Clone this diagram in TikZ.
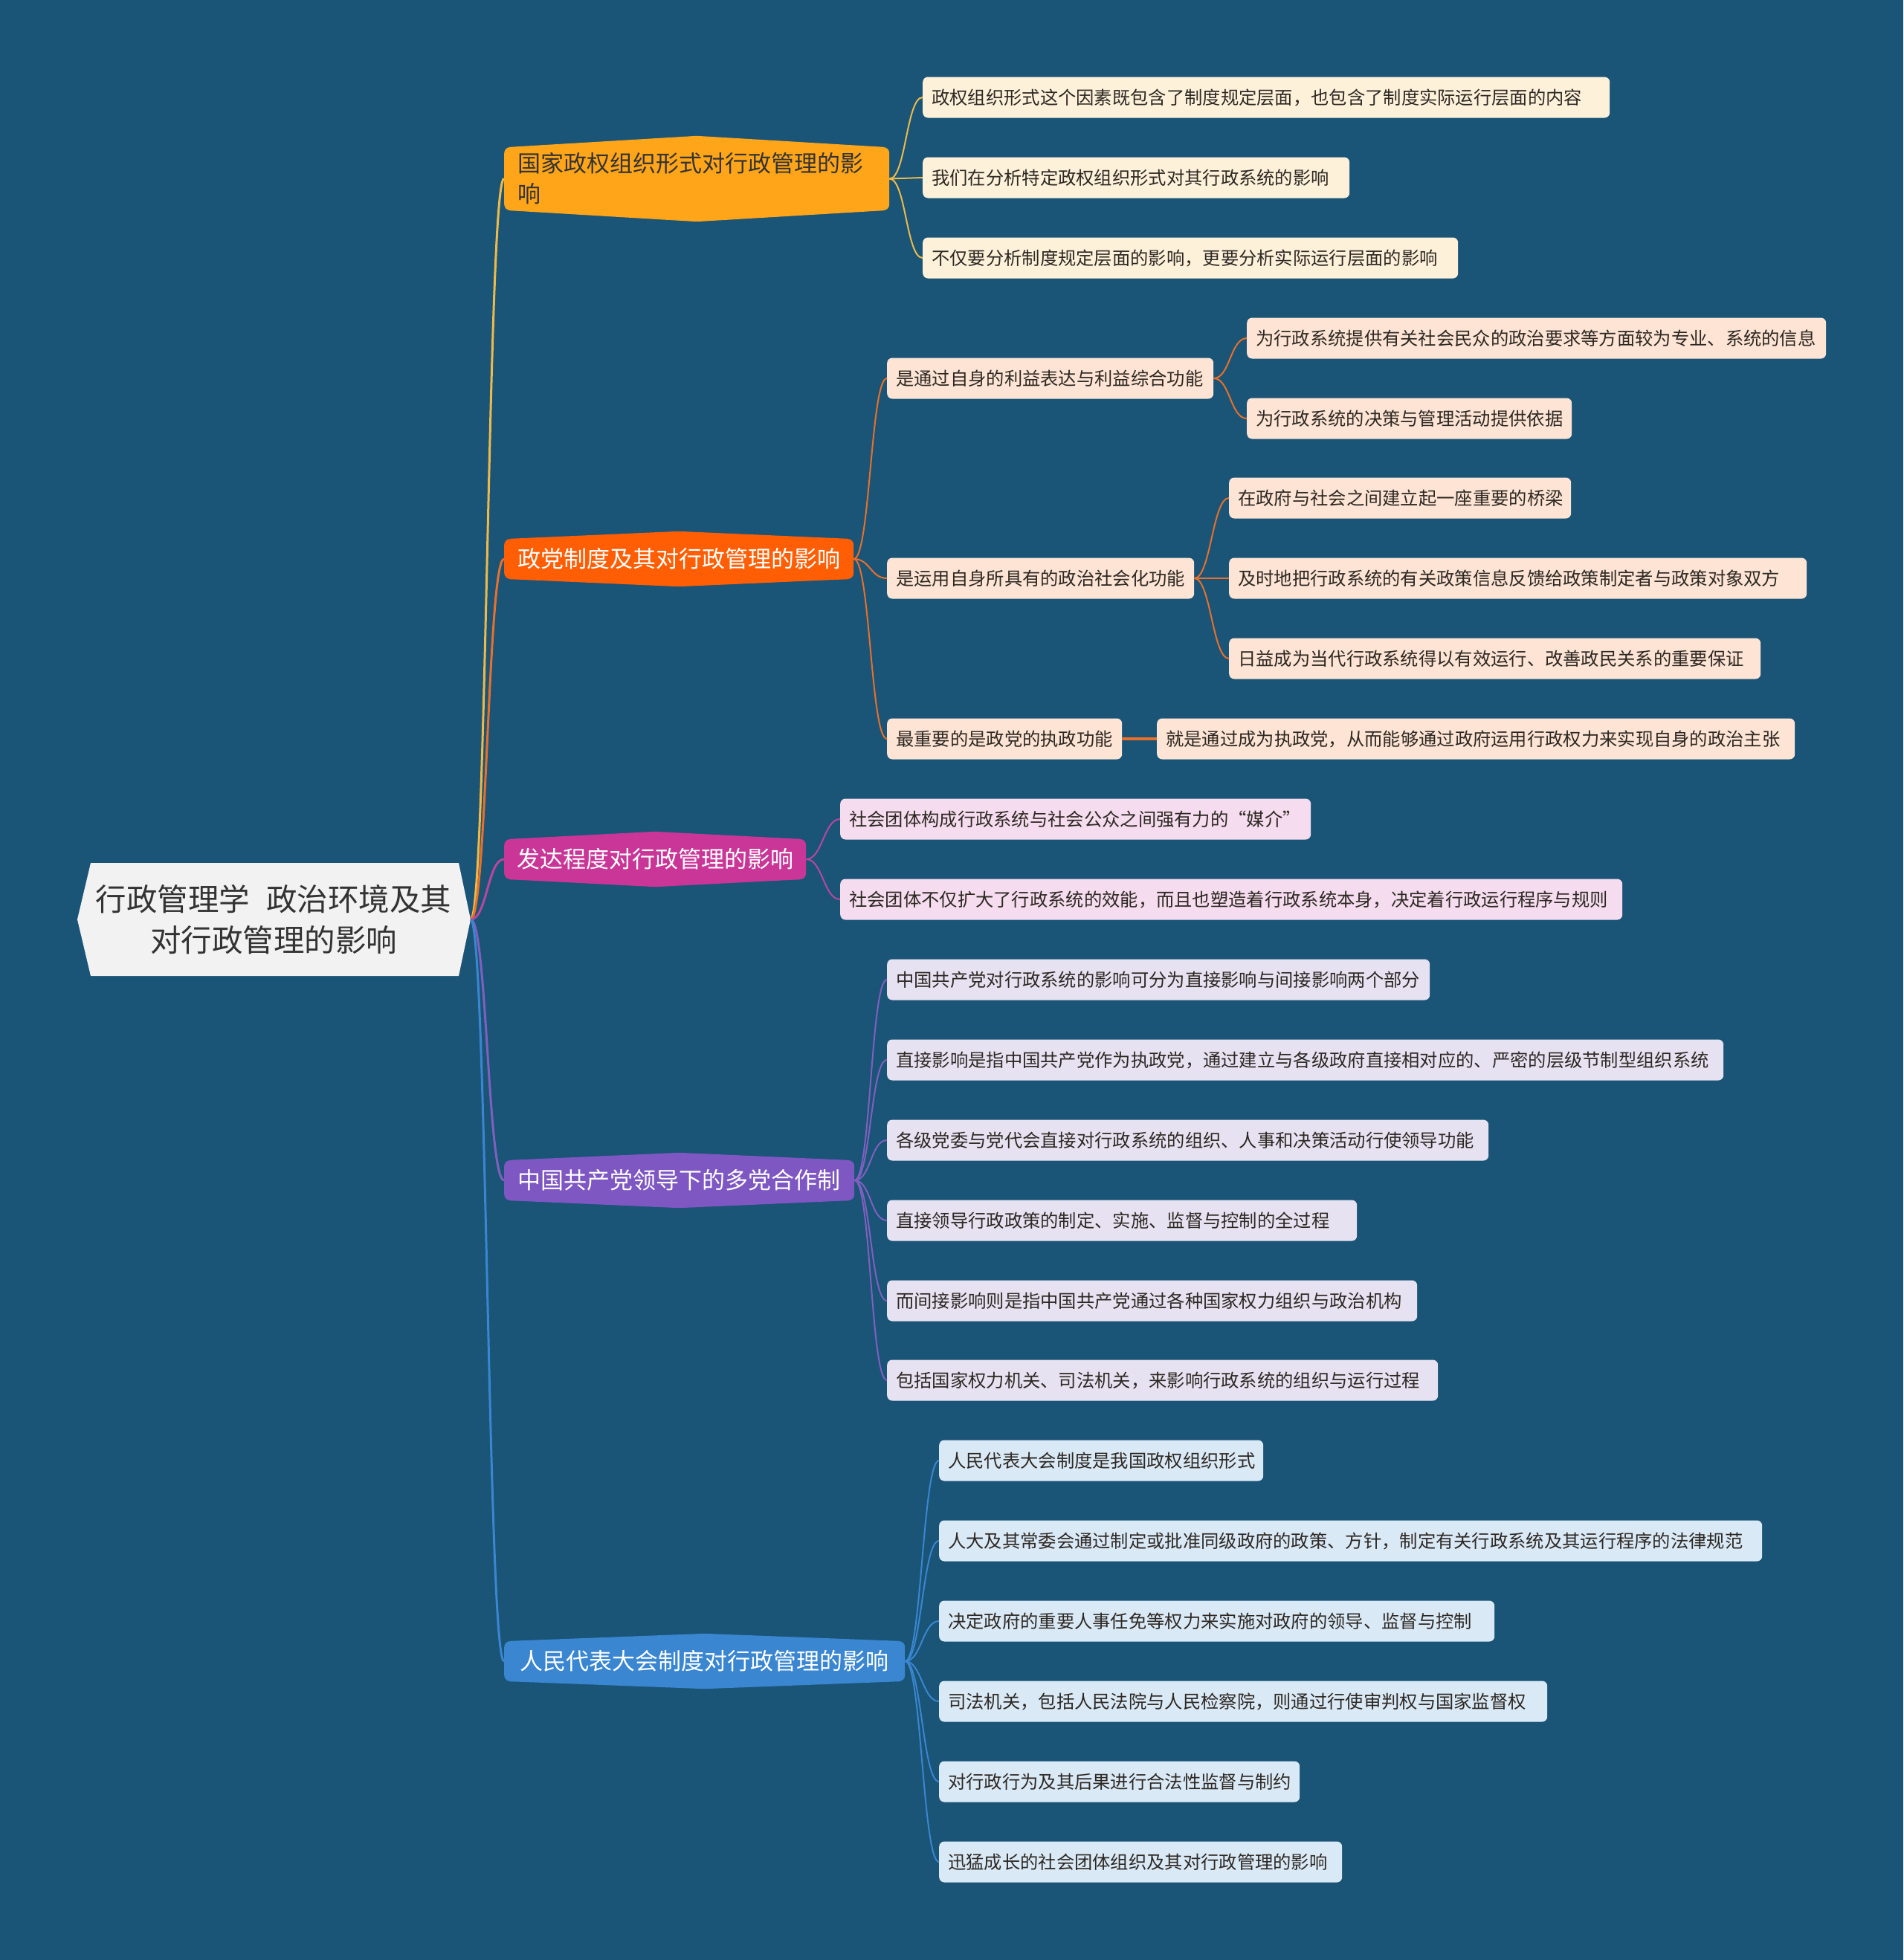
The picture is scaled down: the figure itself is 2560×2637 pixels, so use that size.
\documentclass[tikz,border=0pt]{standalone}
\usepackage{fontspec}
\setmainfont{Noto Sans CJK SC}
\definecolor{bg}{RGB}{26,84,119}
\definecolor{rootfill}{RGB}{242,242,242}
\definecolor{roottext}{RGB}{51,51,51}
\definecolor{leaftext}{RGB}{45,40,35}
\definecolor{cA}{RGB}{255,165,25}
\definecolor{cAl}{RGB}{253,241,218}
\definecolor{cAc}{RGB}{237,186,74}
\definecolor{cB}{RGB}{255,94,5}
\definecolor{cBl}{RGB}{253,228,212}
\definecolor{cBc}{RGB}{232,112,42}
\definecolor{cC}{RGB}{202,54,152}
\definecolor{cCl}{RGB}{245,220,238}
\definecolor{cCc}{RGB}{184,71,158}
\definecolor{cD}{RGB}{126,87,194}
\definecolor{cDl}{RGB}{231,226,241}
\definecolor{cDc}{RGB}{128,96,191}
\definecolor{cE}{RGB}{58,134,208}
\definecolor{cEl}{RGB}{218,233,246}
\definecolor{cEc}{RGB}{58,134,208}
\tikzset{
  leaf/.style={rounded corners=7pt, anchor=west, inner xsep=12pt, inner ysep=0pt,
    minimum height=55pt, align=left, font=\fontsize{24.3}{28}\selectfont,
    text height=21pt, text depth=3pt, text=leaftext},
  br/.style={rounded corners=8pt, anchor=west, inner xsep=0pt, inner ysep=0pt,
    minimum height=54pt, align=center, font=\fontsize{31}{41}\selectfont,
    text height=27pt, text depth=4pt, text=white},
  brone/.style={rounded corners=8pt, anchor=west, inner xsep=18pt, inner ysep=0pt,
    minimum height=85pt, align=left, font=\fontsize{31}{41}\selectfont, text=roottext},
  rootln/.style={line width=3pt},
  lfln/.style={line width=2pt},
}
\newcommand\peaks[3]{%
  \fill[#2] ([xshift=8pt]#1.north west) -- ([yshift=#3]#1.north) -- ([xshift=-8pt]#1.north east) -- cycle;
  \fill[#2] ([xshift=8pt]#1.south west) -- ([yshift=-#3]#1.south) -- ([xshift=-8pt]#1.south east) -- cycle;}
\begin{document}
\begin{tikzpicture}[x=1pt,y=-1pt]
\useasboundingbox (0,0) rectangle (2560,2637);
\fill[bg] (0,0) rectangle (2560,2637);

% root
\fill[rootfill] (104,1237) -- (122,1161) -- (617,1161) -- (633,1237) -- (617,1313) -- (122,1313) -- cycle;
\node[align=center, font=\fontsize{41.5}{55}\selectfont, text=roottext] (root) at (368,1237)
  {行政管理学\hspace{22pt}政治环境及其\\对行政管理的影响};
\coordinate (rootE) at (633,1237);

% branches
\node[brone, fill=cA, minimum width=518pt, text width=482pt] (b1) at (678,240.5)
  {国家政权组织形式对行政管理的影\\响};
\peaks{b1}{cA}{15pt}
\node[br, fill=cB, minimum width=470pt] (b2) at (678,752) {政党制度及其对行政管理的影响};
\peaks{b2}{cB}{10pt}
\node[br, fill=cC, minimum width=406pt] (b3) at (678,1156) {发达程度对行政管理的影响};
\peaks{b3}{cC}{10pt}
\node[br, fill=cD, minimum width=471pt] (b4) at (678,1588) {中国共产党领导下的多党合作制};
\peaks{b4}{cD}{10pt}
\node[br, fill=cE, minimum width=539pt] (b5) at (678,2235) {人民代表大会制度对行政管理的影响};
\peaks{b5}{cE}{10pt}

% branch 1 leaves
\node[leaf, fill=cAl, text width=900pt] (l0) at (1241,131) {政权组织形式这个因素既包含了制度规定层面，也包含了制度实际运行层面的内容};
\node[leaf, fill=cAl, text width=550pt] (l1) at (1241,239) {我们在分析特定政权组织形式对其行政系统的影响};
\node[leaf, fill=cAl, text width=696pt] (l2) at (1241,347) {不仅要分析制度规定层面的影响，更要分析实际运行层面的影响};

% branch 2
\node[leaf, fill=cBl, text width=415pt] (c1) at (1193,509) {是通过自身的利益表达与利益综合功能};
\node[leaf, fill=cBl, text width=755pt] (l3) at (1677,455) {为行政系统提供有关社会民众的政治要求等方面较为专业、系统的信息};
\node[leaf, fill=cBl, text width=413pt] (l4) at (1677,563) {为行政系统的决策与管理活动提供依据};
\node[leaf, fill=cBl, text width=389pt] (c2) at (1193,778) {是运用自身所具有的政治社会化功能};
\node[leaf, fill=cBl, text width=436pt] (l5) at (1653,670) {在政府与社会之间建立起一座重要的桥梁};
\node[leaf, fill=cBl, text width=753pt] (l6) at (1653,778) {及时地把行政系统的有关政策信息反馈给政策制定者与政策对象双方};
\node[leaf, fill=cBl, text width=691pt] (l7) at (1653,886) {日益成为当代行政系统得以有效运行、改善政民关系的重要保证};
\node[leaf, fill=cBl, text width=292pt] (c3) at (1193,994) {最重要的是政党的执政功能};
\node[leaf, fill=cBl, text width=834pt] (l8) at (1556,994) {就是通过成为执政党，从而能够通过政府运用行政权力来实现自身的政治主张};

% branch 3
\node[leaf, fill=cCl, text width=609pt] (l9) at (1130,1102) {社会团体构成行政系统与社会公众之间强有力的“媒介”};
\node[leaf, fill=cCl, text width=1028pt] (l10) at (1130,1210) {社会团体不仅扩大了行政系统的效能，而且也塑造着行政系统本身，决定着行政运行程序与规则};

% branch 4
\node[leaf, fill=cDl, text width=706pt] (l11) at (1193,1318) {中国共产党对行政系统的影响可分为直接影响与间接影响两个部分};
\node[leaf, fill=cDl, text width=1101pt] (l12) at (1193,1426) {直接影响是指中国共产党作为执政党，通过建立与各级政府直接相对应的、严密的层级节制型组织系统};
\node[leaf, fill=cDl, text width=785pt] (l13) at (1193,1534) {各级党委与党代会直接对行政系统的组织、人事和决策活动行使领导功能};
\node[leaf, fill=cDl, text width=608pt] (l14) at (1193,1642) {直接领导行政政策的制定、实施、监督与控制的全过程};
\node[leaf, fill=cDl, text width=689pt] (l15) at (1193,1750) {而间接影响则是指中国共产党通过各种国家权力组织与政治机构};
\node[leaf, fill=cDl, text width=717pt] (l16) at (1193,1857) {包括国家权力机关、司法机关，来影响行政系统的组织与运行过程};

% branch 5
\node[leaf, fill=cEl, text width=412pt] (l17) at (1263,1965) {人民代表大会制度是我国政权组织形式};
\node[leaf, fill=cEl, text width=1083pt] (l18) at (1263,2073) {人大及其常委会通过制定或批准同级政府的政策、方针，制定有关行政系统及其运行程序的法律规范};
\node[leaf, fill=cEl, text width=723pt] (l19) at (1263,2181) {决定政府的重要人事任免等权力来实施对政府的领导、监督与控制};
\node[leaf, fill=cEl, text width=794pt] (l20) at (1263,2289) {司法机关，包括人民法院与人民检察院，则通过行使审判权与国家监督权};
\node[leaf, fill=cEl, text width=461pt] (l21) at (1263,2397) {对行政行为及其后果进行合法性监督与制约};
\node[leaf, fill=cEl, text width=518pt] (l22) at (1263,2505) {迅猛成长的社会团体组织及其对行政管理的影响};

% root connectors
\draw[rootln, cAc] (rootE) .. controls +(22,0) and +(-22,0) .. (b1.west);
\draw[rootln, cBc] (rootE) .. controls +(22,0) and +(-22,0) .. (b2.west);
\draw[rootln, cCc] (rootE) .. controls +(22,0) and +(-22,0) .. (b3.west);
\draw[rootln, cDc] (rootE) .. controls +(22,0) and +(-22,0) .. (b4.west);
\draw[rootln, cEc] (rootE) .. controls +(22,0) and +(-22,0) .. (b5.west);

% leaf connectors
\foreach \t in {l0,l1,l2}
  \draw[lfln, cAc] (b1.east) .. controls +(22,0) and +(-22,0) .. (\t.west);
\foreach \t in {c1,c2,c3}
  \draw[lfln, cBc] (b2.east) .. controls +(22,0) and +(-22,0) .. (\t.west);
\foreach \t in {l3,l4}
  \draw[lfln, cBc] (c1.east) .. controls +(22,0) and +(-22,0) .. (\t.west);
\foreach \t in {l5,l6,l7}
  \draw[lfln, cBc] (c2.east) .. controls +(22,0) and +(-22,0) .. (\t.west);
\draw[line width=4pt, cBc] (c3.east) -- (l8.west);
\foreach \t in {l9,l10}
  \draw[lfln, cCc] (b3.east) .. controls +(22,0) and +(-22,0) .. (\t.west);
\foreach \t in {l11,l12,l13,l14,l15,l16}
  \draw[lfln, cDc] (b4.east) .. controls +(22,0) and +(-22,0) .. (\t.west);
\foreach \t in {l17,l18,l19,l20,l21,l22}
  \draw[lfln, cEc] (b5.east) .. controls +(22,0) and +(-22,0) .. (\t.west);
\end{tikzpicture}
\end{document}
